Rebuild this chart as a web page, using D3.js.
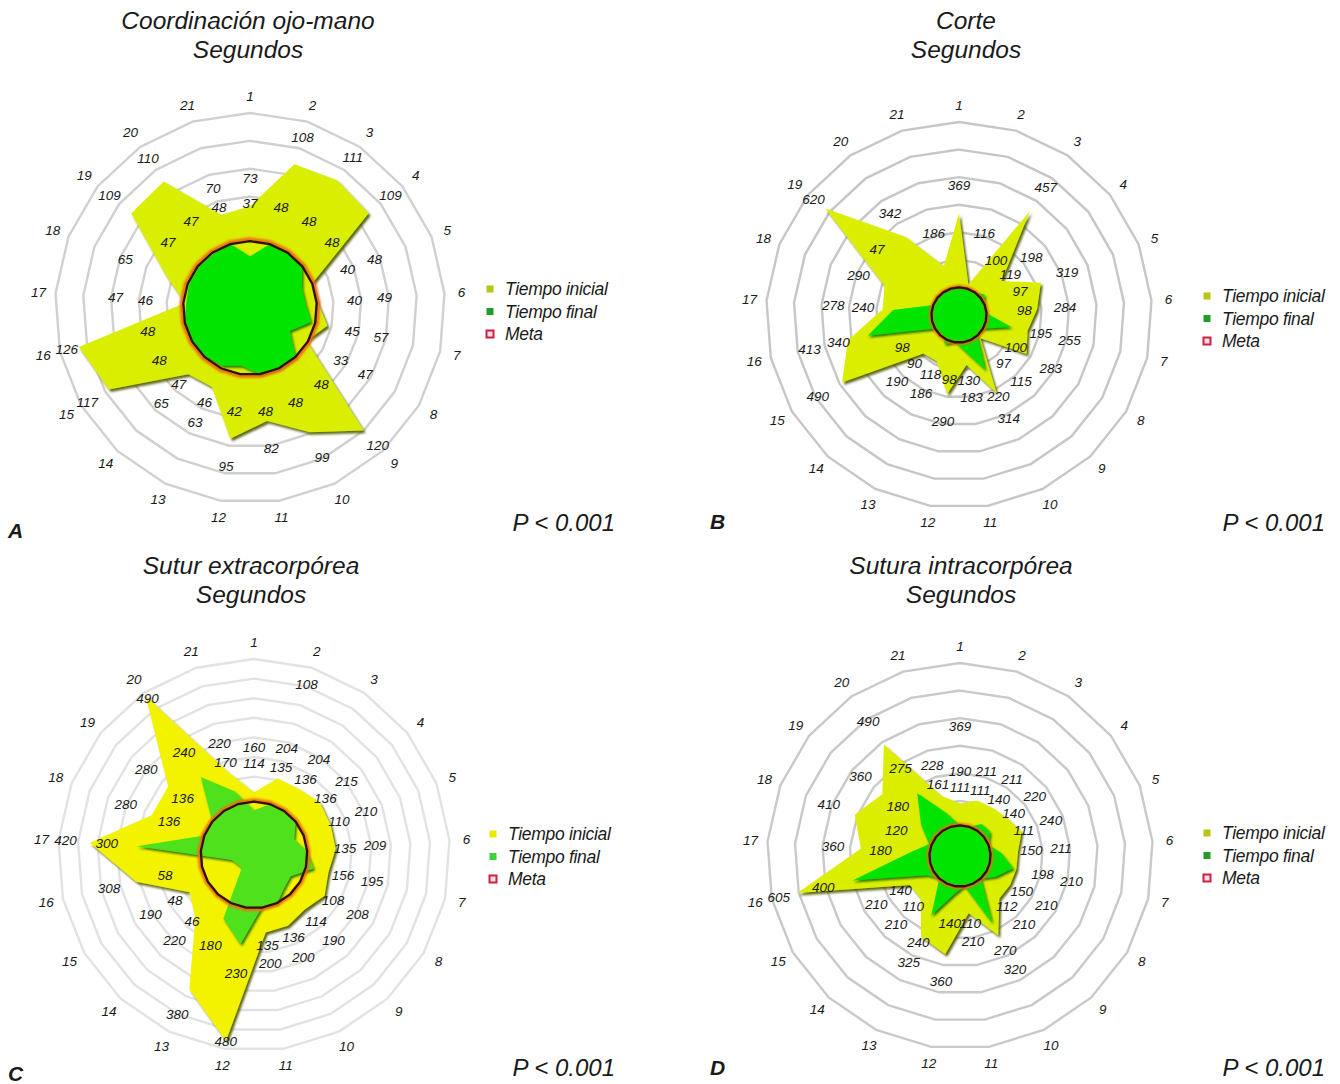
<!DOCTYPE html>
<html>
<head>
<meta charset="utf-8">
<script src="https://cdn.jsdelivr.net/npm/d3@7"></script>
<style>
    body { margin: 0; background: #fff; }
    svg text { font-family: 'Liberation Sans', Arial, sans-serif; font-style: italic; fill: #1a1a1a; }
</style>
</head>
<body>
<svg id="chart" width="1340" height="1084"></svg>
<script>
// spokes of every radar (exercise number)
const axisNames = ['1', '2', '3', '4', '5', '6', '7', '8', '9', '10', '11', '12', '13', '14', '15', '16', '17', '18', '19', '20', '21'];
const seriesNames = ['Tiempo inicial', 'Tiempo final', 'Meta'];

// A - Coordinación ojo-mano
const initialA = [73, 108, 111, 109, 48, 49, 57, 47, 120, 99, 82, 95, 63, 65, 117, 126, 47, 65, 109, 110, 70];
const finalA = [37, 48, 48, 48, 40, 40, 45, 33, 48, 48, 48, 42, 46, 47, 48, 48, 46, 47, 47, 47, 48];
const metaA = 48;
const unlabeledA = [18];

// B - Corte
const initialB = [369, 116, 457, 198, 319, 284, 255, 283, 115, 314, 183, 290, 186, 190, 490, 413, 278, 290, 620, 342, 186];
const finalB = [100, 100, 100, 119, 97, 98, 195, 100, 97, 220, 130, 98, 118, 90, 98, 340, 240, 100, 95, 100, 100];
const metaB = 100;
const unlabeledB = [1, 2, 18, 19, 20, 21];

// C - Sutura extracorpórea
const initialC = [160, 204, 204, 215, 210, 209, 195, 208, 190, 200, 200, 480, 380, 220, 190, 308, 420, 280, 280, 490, 220];
const finalC = [114, 135, 136, 136, 110, 135, 156, 108, 114, 136, 135, 230, 180, 46, 48, 58, 300, 136, 136, 240, 170];
const metaC = 136;
const unlabeledC = [];

// D - Sutura intracorpórea
const initialD = [190, 211, 211, 220, 240, 211, 210, 210, 210, 320, 210, 360, 325, 210, 210, 605, 360, 410, 360, 490, 228];
const finalD = [111, 111, 140, 140, 111, 150, 198, 150, 112, 270, 110, 140, 240, 110, 140, 400, 180, 120, 180, 275, 161];
const metaD = 111;
const unlabeledD = [];

const panels = [
    { id: 'A', title: ['Coordinación ojo-mano', 'Segundos'], initial: initialA, final: finalA, meta: metaA,
      unlabeled: unlabeledA, max: 140, rings: 7, cx: 250, cy: 308, radius: 195,
      leftovers: [], yellow: '#d9ee00', green: '#00e400', ring: '#d0d0d0',
      titleX: 248, titleY: 29, legendX: 490, legendY: 289, letterX: 8, letterY: 538, pX: 615, pY: 531 },
    { id: 'B', title: ['Corte', 'Segundos'], initial: initialB, final: finalB, meta: metaB,
      unlabeled: unlabeledB, max: 700, rings: 7, cx: 959, cy: 315, radius: 193,
      leftovers: [{ panel: 'A', series: 'final', axis: 19 }], yellow: '#dcee00', green: '#00e400', ring: '#c6c6c6',
      titleX: 966, titleY: 29, legendX: 1207, legendY: 296, letterX: 710, letterY: 529, pX: 1325, pY: 531 },
    { id: 'C', title: ['Sutur  extracorpórea', 'Segundos'], initial: initialC, final: finalC, meta: metaC,
      unlabeled: unlabeledC, max: 500, rings: 10, cx: 254, cy: 855, radius: 196,
      leftovers: [{ panel: 'A', series: 'initial', axis: 2 }], yellow: '#f3f300', green: '#4fe21e', ring: '#e2e2e2',
      titleX: 251, titleY: 574, legendX: 493, legendY: 834, letterX: 8, letterY: 1081, pX: 615, pY: 1076 },
    { id: 'D', title: ['Sutura intracorpórea', 'Segundos'], initial: initialD, final: finalD, meta: metaD,
      unlabeled: unlabeledD, max: 700, rings: 7, cx: 960, cy: 856, radius: 193,
      leftovers: [{ panel: 'B', series: 'initial', axis: 1 }], yellow: '#dcee00', green: '#00e400', ring: '#c9c9c9',
      titleX: 961, titleY: 574, legendX: 1207, legendY: 833, letterX: 710, letterY: 1075, pX: 1325, pY: 1076 }
];

const svg = d3.select('#chart');
const defs = svg.append('defs');

// soft shadows like the scanned figure
function shadow(id, color, dx, dy, blur) {
    const f = defs.append('filter').attr('id', id)
        .attr('x', '-20%').attr('y', '-20%').attr('width', '140%').attr('height', '140%');
    f.append('feDropShadow').attr('dx', dx).attr('dy', dy).attr('stdDeviation', blur)
        .attr('flood-color', color).attr('flood-opacity', 0.9);
}
shadow('shadowYellow', '#4e5600', 2, 2.5, 1.1);
shadow('shadowGreen', '#166b00', 1.5, 2, 1);
defs.append('filter').attr('id', 'soft').append('feGaussianBlur').attr('stdDeviation', 0.7);
defs.append('filter').attr('id', 'softer').append('feGaussianBlur').attr('stdDeviation', 1);

const angle = d3.scaleLinear().domain([0, axisNames.length]).range([0, 2 * Math.PI]);

panels.forEach((p) => {
    p.r = d3.scaleLinear().domain([0, p.max]).range([0, p.radius]);
});

// where the value labels sit: final just outside the goal, initial outside the yellow
// (more room on sideways spokes, and never past the outer ring)
function labelRadius(p, series, i) {
    const rFinal = Math.max(p.r(p.meta) + 38, p.r(p.final[i]) + 30);
    if (series === 'final') return rFinal;
    const gap = 16 + 14 * Math.abs(Math.sin(angle(i)));
    return Math.min(Math.max(p.r(p.initial[i]) + 28, rFinal + gap), p.radius - 7);
}

const polar = (rad, i) => [rad * Math.sin(angle(i)), -rad * Math.cos(angle(i))];

panels.forEach((p) => {
    const r = p.r;
    const g = svg.append('g').attr('transform', `translate(${p.cx},${p.cy})`);
    const radial = d3
        .lineRadial()
        .angle((d, i) => angle(i))
        .radius((d) => r(d))
        .curve(d3.curveLinearClosed);

    // grid rings
    const ringValues = r.ticks(p.rings).filter((v) => v > 0);
    g.selectAll('path.ring')
        .data(ringValues)
        .join('path')
        .attr('class', 'ring')
        .attr('d', (v) => radial(axisNames.map(() => v)))
        .attr('fill', 'none')
        .attr('stroke', p.ring)
        .attr('stroke-width', 2.4)
        .attr('filter', 'url(#soft)');

    // tiempo inicial
    g.append('path')
        .attr('d', radial(p.initial))
        .attr('fill', p.yellow)
        .attr('filter', 'url(#shadowYellow)');

    // tiempo final
    g.append('path')
        .attr('d', radial(p.final))
        .attr('fill', p.green)
        .attr('filter', 'url(#shadowGreen)');

    // meta: dark line with an orange halo just outside it
    const metaOuter = radial(axisNames.map(() => p.meta * 1.03));
    const metaPath = radial(axisNames.map(() => p.meta));
    g.append('path')
        .attr('d', metaOuter)
        .attr('fill', 'none')
        .attr('stroke', '#f26a12')
        .attr('stroke-width', 3.5)
        .attr('filter', 'url(#softer)');
    g.append('path')
        .attr('d', metaPath)
        .attr('fill', 'none')
        .attr('stroke', '#2a1204')
        .attr('stroke-width', 2.3);

    // spoke numbers
    g.selectAll('text.axis')
        .data(axisNames)
        .join('text')
        .attr('class', 'axis')
        .attr('x', (d, i) => polar(p.radius + 17, i)[0])
        .attr('y', (d, i) => polar(p.radius + 17, i)[1])
        .attr('text-anchor', 'middle')
        .attr('dominant-baseline', 'central')
        .attr('font-size', '13.5px')
        .text((d) => d);

    // value labels
    const labels = [];
    axisNames.forEach((name, i) => {
        labels.push({ text: p.initial[i], pos: polar(labelRadius(p, 'initial', i), i) });
        if (!p.unlabeled.includes(i + 1)) {
            labels.push({ text: p.final[i], pos: polar(labelRadius(p, 'final', i), i) });
        }
    });
    // labels left over from the panel this one was copied from
    p.leftovers.forEach((l) => {
        const src = panels.find((q) => q.id === l.panel);
        const i = l.axis - 1;
        labels.push({ text: src[l.series][i], pos: polar(labelRadius(src, l.series, i), i) });
    });

    g.selectAll('text.value')
        .data(labels)
        .join('text')
        .attr('class', 'value')
        .attr('x', (d) => d.pos[0])
        .attr('y', (d) => d.pos[1])
        .attr('text-anchor', 'middle')
        .attr('dominant-baseline', 'central')
        .attr('font-size', '13.5px')
        .text((d) => d.text);

    // titles
    svg.selectAll(null)
        .data(p.title)
        .join('text')
        .attr('x', p.titleX)
        .attr('y', (d, i) => p.titleY + i * 29)
        .attr('text-anchor', 'middle')
        .attr('font-size', '24.5px')
        .text((d) => d);

    // legend
    const legend = svg.append('g').attr('transform', `translate(${p.legendX},${p.legendY})`);
    const markerFill = [p.id === 'C' ? '#e8e800' : '#b8c418', p.id === 'C' ? '#3ed23a' : '#249c2c', '#fbe0e6'];
    const markerStroke = ['none', 'none', '#cc2040'];
    legend.selectAll('rect')
        .data(seriesNames)
        .join('rect')
        .attr('x', -3.5)
        .attr('y', (d, i) => i * 22.5 - 3.5)
        .attr('width', 7)
        .attr('height', 7)
        .attr('fill', (d, i) => markerFill[i])
        .attr('stroke', (d, i) => markerStroke[i])
        .attr('stroke-width', 2)
        .attr('filter', 'url(#soft)');
    legend.selectAll('text')
        .data(seriesNames)
        .join('text')
        .attr('x', 15)
        .attr('y', (d, i) => i * 22.5)
        .attr('dominant-baseline', 'central')
        .attr('font-size', '17.5px')
        .attr('letter-spacing', '-0.3px')
        .text((d) => d);

    // panel letter and p value
    svg.append('text')
        .attr('x', p.letterX)
        .attr('y', p.letterY)
        .attr('font-size', '21px')
        .attr('font-weight', 'bold')
        .text(p.id);
    svg.append('text')
        .attr('x', p.pX)
        .attr('y', p.pY)
        .attr('text-anchor', 'end')
        .attr('font-size', '24px')
        .text('P < 0.001');
});
</script>
</body>
</html>
